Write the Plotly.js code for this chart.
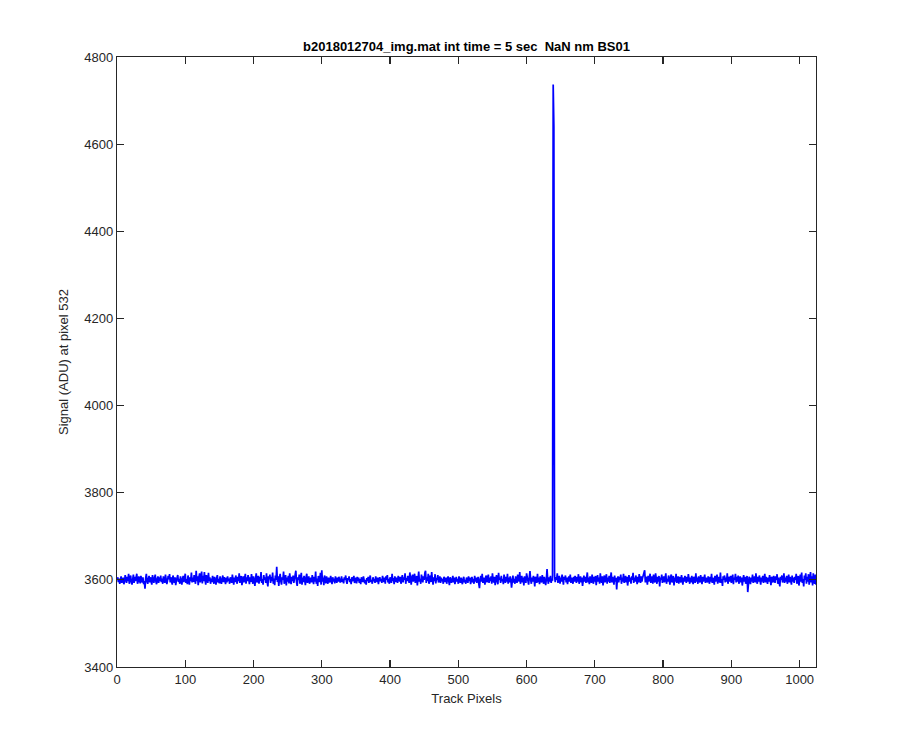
<!DOCTYPE html>
<html>
<head>
<meta charset="utf-8">
<script src="https://cdn.plot.ly/plotly-3.0.1.min.js"></script>
<style>html,body{margin:0;padding:0;background:#fff;}#chart{width:900px;height:750px;}</style>
</head>
<body>
<div id="chart"></div>
<script>
const titleText = "b2018012704_img.mat int time = 5 sec  NaN nm BS01";
const xLabel = "Track Pixels";
const yLabel = "Signal (ADU) at pixel 532";
const xTicks = [0,100,200,300,400,500,600,700,800,900,1000];
const yTicks = [3400,3600,3800,4000,4200,4400,4600,4800];
const firstPixel = 1;
const signal = [
3606,3595,3603,3591,3600,3608,3593,3598,3605,3590,3596,3611,3601,3593,3607,3597,3614,3591,3603,3610,3595,3589,3601,3612,3593,3607,3597,3603,3614,3591,3596,3608,
3601,3592,3609,3598,3594,3606,3590,3597,3580,3604,3614,3596,3591,3603,3609,3594,3606,3597,3589,3611,3600,3593,3604,3612,3596,3590,3602,3608,3593,3606,3597,3610,
3595,3603,3591,3608,3600,3593,3612,3604,3590,3598,3609,3601,3613,3594,3606,3596,3589,3610,3600,3593,3606,3588,3598,3604,3611,3595,3602,3591,3608,3597,3589,3603,
3609,3595,3604,3614,3593,3602,3590,3610,3600,3589,3606,3597,3617,3594,3605,3595,3611,3601,3591,3621,3597,3608,3588,3606,3615,3594,3603,3619,3592,3609,3597,3618,
3600,3589,3611,3602,3593,3616,3597,3606,3591,3603,3595,3609,3600,3591,3607,3597,3589,3604,3611,3594,3602,3592,3608,3597,3591,3603,3610,3595,3606,3600,3590,3605,
3594,3608,3597,3603,3591,3606,3600,3593,3612,3602,3589,3605,3595,3610,3600,3591,3607,3597,3615,3593,3602,3609,3588,3600,3608,3594,3603,3614,3591,3606,3597,3611,
3602,3590,3606,3595,3613,3600,3591,3608,3597,3586,3604,3615,3594,3602,3609,3591,3607,3597,3618,3593,3602,3589,3611,3600,3606,3593,3615,3595,3585,3608,3601,3612,
3593,3607,3597,3617,3591,3603,3588,3610,3600,3630,3595,3608,3586,3604,3614,3597,3589,3606,3600,3619,3591,3602,3611,3587,3605,3596,3609,3592,3615,3600,3590,3607,
3597,3610,3593,3602,3614,3621,3595,3586,3606,3600,3612,3591,3603,3616,3589,3605,3595,3609,3600,3588,3606,3614,3593,3602,3608,3591,3600,3605,3594,3611,3601,3590,
3607,3596,3619,3591,3603,3586,3609,3600,3595,3616,3589,3622,3596,3605,3588,3610,3602,3592,3608,3596,3591,3605,3600,3594,3609,3602,3590,3606,3596,3603,3592,3608,
3600,3593,3605,3596,3607,3601,3594,3600,3608,3595,3602,3592,3606,3600,3610,3597,3591,3604,3600,3608,3595,3602,3590,3606,3597,3602,3609,3593,3600,3605,3592,3607,
3597,3605,3593,3602,3590,3606,3600,3595,3608,3601,3592,3600,3589,3604,3597,3607,3593,3602,3610,3595,3600,3591,3606,3597,3602,3593,3608,3600,3595,3605,3590,3602,
3606,3597,3602,3593,3609,3600,3595,3605,3591,3608,3600,3611,3594,3602,3591,3606,3600,3593,3614,3597,3604,3590,3608,3600,3595,3605,3593,3609,3601,3596,3607,3591,
3602,3611,3594,3606,3600,3615,3591,3604,3597,3609,3601,3593,3617,3600,3589,3606,3612,3596,3604,3614,3593,3602,3609,3587,3606,3619,3596,3602,3591,3612,3604,3594,
3608,3600,3616,3621,3593,3606,3597,3614,3591,3604,3610,3595,3618,3602,3589,3606,3597,3613,3592,3604,3600,3611,3594,3602,3608,3593,3605,3597,3602,3591,3607,3600,
3595,3605,3591,3602,3608,3597,3588,3606,3600,3593,3602,3609,3594,3605,3590,3600,3607,3596,3602,3591,3608,3600,3593,3605,3597,3590,3602,3607,3594,3600,3591,3605,
3602,3593,3608,3597,3605,3590,3600,3607,3594,3602,3591,3609,3596,3605,3593,3600,3607,3591,3581,3602,3609,3596,3614,3593,3605,3600,3589,3606,3610,3594,3602,3612,
3593,3605,3597,3608,3591,3615,3600,3594,3607,3588,3602,3611,3596,3590,3616,3600,3605,3593,3609,3597,3602,3590,3612,3600,3593,3607,3596,3614,3591,3605,3594,3608,
3600,3582,3607,3610,3594,3602,3591,3608,3600,3593,3612,3605,3596,3618,3591,3602,3609,3594,3605,3587,3608,3600,3593,3615,3602,3596,3589,3606,3620,3600,3591,3605,
3596,3609,3602,3585,3607,3600,3593,3614,3595,3605,3590,3608,3600,3594,3611,3602,3591,3607,3596,3588,3602,3625,3600,3591,3606,3596,3609,3593,3602,3598,4737,4640,
3609,3595,3606,3600,3615,3593,3602,3609,3591,3605,3596,3612,3602,3589,3607,3600,3610,3594,3605,3590,3602,3608,3596,3612,3593,3605,3600,3591,3607,3596,3609,3602,
3593,3607,3596,3613,3591,3602,3608,3594,3605,3586,3600,3610,3596,3607,3593,3602,3617,3594,3605,3590,3608,3600,3593,3612,3602,3591,3607,3596,3609,3588,3602,3611,
3596,3605,3591,3615,3600,3593,3608,3587,3602,3610,3594,3607,3613,3591,3605,3596,3609,3593,3602,3617,3594,3607,3600,3589,3610,3596,3605,3578,3602,3608,3594,3607,
3600,3612,3591,3605,3596,3614,3593,3602,3609,3594,3607,3587,3602,3611,3596,3605,3591,3608,3600,3616,3593,3605,3596,3610,3602,3590,3607,3594,3613,3600,3593,3608,
3596,3605,3611,3617,3622,3594,3607,3602,3589,3609,3596,3605,3614,3593,3602,3608,3591,3612,3600,3594,3615,3602,3591,3607,3596,3609,3585,3605,3600,3612,3593,3602,
3608,3594,3605,3615,3591,3602,3596,3610,3600,3589,3607,3612,3594,3602,3609,3587,3605,3596,3614,3593,3602,3608,3591,3607,3600,3594,3611,3602,3589,3605,3596,3609,
3602,3593,3607,3596,3613,3600,3591,3605,3594,3609,3602,3590,3607,3600,3593,3615,3596,3605,3591,3608,3600,3594,3611,3602,3590,3607,3596,3602,3612,3593,3605,3600,
3594,3608,3602,3591,3607,3596,3614,3593,3605,3600,3589,3609,3596,3602,3612,3591,3607,3600,3594,3617,3593,3602,3586,3608,3600,3610,3594,3605,3596,3615,3591,3602,
3607,3596,3609,3593,3602,3612,3590,3605,3600,3614,3594,3607,3596,3610,3591,3602,3608,3594,3605,3587,3600,3611,3596,3607,3591,3602,3609,3572,3594,3607,3600,3590,
3605,3596,3612,3593,3602,3608,3594,3615,3600,3591,3607,3596,3610,3602,3589,3605,3596,3609,3593,3602,3614,3594,3607,3600,3591,3605,3596,3611,3602,3588,3607,3600,
3594,3609,3602,3593,3608,3600,3613,3591,3605,3596,3585,3607,3600,3610,3594,3602,3615,3593,3605,3596,3609,3591,3602,3612,3594,3607,3600,3589,3610,3596,3605,3593,
3607,3600,3614,3591,3602,3609,3587,3605,3612,3596,3617,3593,3602,3585,3610,3600,3615,3591,3607,3596,3613,3589,3605,3618,3594,3608,3587,3615,3600,3591,3612,3589
];

const axisCommon = {
  showgrid: false, zeroline: false, showline: true, mirror: 'ticks',
  linecolor: '#262626', linewidth: 1.2, ticks: 'inside', ticklen: 7,
  tickcolor: '#262626', tickwidth: 1.2,
  tickfont: {family: 'Liberation Sans, Arial, sans-serif', size: 13, color: '#262626'}
};

const trace = {
  type: 'scatter', mode: 'lines',
  x0: firstPixel, dx: 1, y: signal,
  line: {color: '#0000ff', width: 1.7},
  hoverinfo: 'skip'
};

const layout = {
  width: 900, height: 750,
  margin: {l: 117, r: 84, t: 57, b: 83},
  paper_bgcolor: '#ffffff', plot_bgcolor: '#ffffff',
  showlegend: false,
  title: {text: '<b>' + titleText + '</b>', x: 0.5, xref: 'paper', xanchor: 'center',
          y: 1, yref: 'paper', yanchor: 'bottom', pad: {b: 6},
          font: {family: 'Liberation Sans, Arial, sans-serif', size: 13, color: '#000000'}},
  xaxis: Object.assign({}, axisCommon, {
    range: [0, 1024], tickvals: xTicks, ticktext: xTicks.map(String),
    title: {text: xLabel, standoff: 8, font: {family: 'Liberation Sans, Arial, sans-serif', size: 13, color: '#262626'}}
  }),
  yaxis: Object.assign({}, axisCommon, {
    range: [3400, 4800], tickvals: yTicks, ticktext: yTicks.map(String),
    title: {text: yLabel, standoff: 12, font: {family: 'Liberation Sans, Arial, sans-serif', size: 13, color: '#262626'}}
  })
};

Plotly.newPlot('chart', [trace], layout, {staticPlot: true, displayModeBar: false});
</script>
</body>
</html>
